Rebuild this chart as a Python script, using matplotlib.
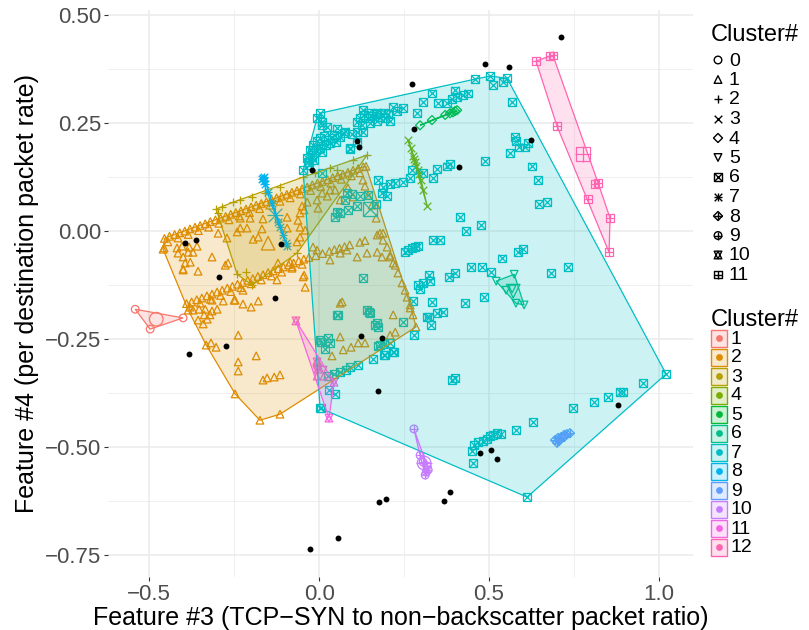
import numpy as np
import matplotlib.pyplot as plt
from matplotlib.patches import Polygon, Rectangle
from matplotlib.colors import to_rgba

plt.rcParams['font.family'] = ['Liberation Sans', 'DejaVu Sans']

palette = ['#F8766D', '#DE8C00', '#B79F00', '#7CAE00', '#00BA38', '#00C08B',
           '#00BFC4', '#00B4F0', '#619CFF', '#C77CFF', '#F564E3', '#FF64B0']
# shape legend 0..11 belongs to clusters 1..12
shape_markers = [['o'], ['^'], ['+'], ['x'], ['D'], ['v'], ['s', 'x'], ['+', 'x'],
                 ['D', '+'], ['o', '+'], ['^', 'v'], ['s', '+']]
shape_labels = [str(i) for i in range(12)]
cluster_labels = [str(i) for i in range(1, 13)]

c1 = [(-0.541, -0.181), (-0.497, -0.227), (-0.400, -0.201)]

c2_streak_hi = [(-0.455, -0.017), (-0.44, -0.012), (-0.425, -0.008), (-0.41, -0.004), (-0.395, 0.000),
                (-0.38, 0.005), (-0.365, 0.009), (-0.35, 0.013), (-0.335, 0.017), (-0.32, 0.022),
                (-0.305, 0.026), (-0.29, 0.030), (-0.275, 0.034), (-0.26, 0.039), (-0.245, 0.043),
                (-0.23, 0.047), (-0.215, 0.051), (-0.20, 0.056), (-0.185, 0.060), (-0.17, 0.064),
                (-0.155, 0.068), (-0.14, 0.073), (-0.125, 0.077), (-0.11, 0.081), (-0.095, 0.085),
                (-0.08, 0.090), (-0.065, 0.094), (-0.05, 0.098), (-0.035, 0.102), (-0.02, 0.107),
                (-0.005, 0.111), (0.01, 0.115), (0.025, 0.119), (0.04, 0.124), (0.055, 0.128),
                (0.07, 0.132), (0.085, 0.136), (0.10, 0.141), (0.115, 0.145), (0.13, 0.149),
                (-0.445, -0.025), (-0.415, -0.016), (-0.385, -0.008), (-0.355, 0.001), (-0.325, 0.009),
                (-0.295, 0.018), (-0.265, 0.026), (-0.235, 0.035), (-0.205, 0.043), (-0.175, 0.052),
                (-0.145, 0.060), (-0.115, 0.069), (-0.085, 0.077), (-0.055, 0.086), (-0.025, 0.094),
                (0.005, 0.103), (0.035, 0.111), (0.065, 0.120), (0.095, 0.128), (0.12, 0.135)]
c2_streak_lo = [(-0.39, -0.168), (-0.375, -0.164), (-0.36, -0.159), (-0.345, -0.155), (-0.33, -0.150),
                (-0.315, -0.146), (-0.30, -0.141), (-0.285, -0.137), (-0.27, -0.132), (-0.255, -0.128),
                (-0.24, -0.123), (-0.225, -0.119), (-0.21, -0.114), (-0.195, -0.110), (-0.18, -0.105),
                (-0.165, -0.101), (-0.15, -0.096), (-0.135, -0.092), (-0.12, -0.087), (-0.105, -0.083),
                (-0.09, -0.078), (-0.075, -0.074), (-0.06, -0.069), (-0.045, -0.065), (-0.03, -0.061),
                (-0.01, -0.057), (0.01, -0.052), (0.03, -0.047), (0.045, -0.043), (0.06, -0.040),
                (0.075, -0.036), (0.09, -0.032), (0.12, -0.026), (0.135, -0.022),
                (-0.38, -0.176), (-0.35, -0.167), (-0.32, -0.158), (-0.29, -0.149), (-0.26, -0.140),
                (-0.23, -0.131), (-0.20, -0.122), (-0.17, -0.113), (-0.14, -0.104), (-0.11, -0.095),
                (-0.08, -0.086), (-0.05, -0.077)]
c2_scatter = [(-0.459, -0.042), (-0.418, -0.039), (-0.403, -0.035), (-0.382, -0.037), (-0.359, -0.035),
              (-0.415, -0.051), (-0.400, -0.060), (-0.385, -0.049), (-0.371, -0.049), (-0.394, -0.074),
              (-0.379, -0.072), (-0.400, -0.088), (-0.356, -0.093), (-0.276, -0.079), (-0.268, -0.074),
              (-0.315, -0.060), (-0.297, -0.005), (-0.271, -0.016), (-0.232, 0.030), (-0.203, 0.030),
              (-0.165, 0.028), (-0.232, 0.007), (-0.212, 0.007), (-0.168, 0.005), (-0.241, -0.002),
              (-0.194, -0.019), (-0.179, -0.014), (-0.094, 0.007), (-0.094, 0.032), (-0.062, 0.025),
              (-0.056, 0.009), (-0.050, 0.058), (-0.035, 0.067), (-0.044, 0.049), (-0.056, 0.042),
              (-0.006, 0.072), (0.009, 0.088), (-0.003, 0.053), (0.024, 0.081), (0.047, 0.095),
              (0.062, 0.072), (0.085, 0.100), (0.100, 0.079), (0.032, 0.095), (-0.041, 0.002),
              (-0.056, -0.014), (-0.018, -0.037), (-0.006, -0.044), (0.032, -0.067), (0.062, -0.051),
              (0.082, -0.044), (0.112, -0.060), (0.141, -0.051), (0.171, -0.009), (0.188, -0.005),
              (0.171, -0.049), (0.185, -0.060), (0.209, -0.060), (0.218, -0.074), (-0.065, -0.025),
              (-0.079, -0.083), (-0.044, -0.102), (-0.124, -0.113), (-0.224, -0.137), (-0.247, -0.160),
              (-0.121, -0.074), (-0.085, -0.072), (0.062, -0.167), (0.068, -0.164), (0.144, -0.183),
              (0.218, -0.194), (-0.400, -0.090), (-0.047, -0.106), (-0.041, -0.130), (-0.282, -0.162),
              (-0.250, -0.160), (-0.224, -0.169), (-0.200, -0.176), (-0.179, -0.162), (-0.315, -0.160),
              (-0.385, -0.183), (-0.371, -0.183), (-0.353, -0.181), (-0.335, -0.181), (-0.315, -0.185),
              (-0.300, -0.181), (-0.338, -0.194), (-0.321, -0.194), (-0.356, -0.206), (-0.329, -0.204),
              (-0.341, -0.215), (-0.238, -0.241), (-0.332, -0.264), (-0.318, -0.259), (-0.303, -0.269),
              (-0.185, -0.289), (-0.238, -0.303), (-0.238, -0.324), (-0.165, -0.345), (-0.153, -0.340),
              (-0.132, -0.338), (-0.115, -0.333), (-0.247, -0.377), (-0.174, -0.438), (-0.115, -0.424),
              (-0.456, -0.039), (0.268, -0.178), (0.062, -0.245), (0.115, -0.259), (0.135, -0.259),
              (0.209, -0.241), (0.224, -0.234), (0.071, -0.275), (0.094, -0.269), (0.038, -0.289),
              (-0.006, -0.301), (0.129, 0.118), (0.135, 0.104), (0.144, 0.083), (0.156, 0.060),
              (0.168, 0.030), (0.179, -0.005), (0.188, -0.021), (0.200, -0.037), (0.209, -0.056),
              (0.224, -0.079), (0.232, -0.097), (0.244, -0.120), (0.253, -0.137), (0.259, -0.153),
              (0.268, -0.171), (0.276, -0.194), (0.285, -0.222), (0.138, 0.150)]
c2 = c2_streak_hi + c2_streak_lo + c2_scatter

c3 = [(-0.303, 0.051), (-0.297, 0.042), (-0.285, 0.056), (-0.253, 0.067), (-0.232, 0.072),
      (-0.197, 0.079), (-0.159, 0.088), (-0.115, 0.102), (-0.047, 0.125), (-0.012, 0.134),
      (0.032, 0.146), (0.053, 0.141), (0.100, 0.164), (0.141, 0.176), (-0.065, -0.051),
      (-0.197, -0.125), (-0.215, -0.095), (-0.241, -0.100)]

c4 = [(0.262, 0.211), (0.271, 0.192), (0.276, 0.174), (0.279, 0.167), (0.282, 0.160), (0.285, 0.150),
      (0.291, 0.141), (0.294, 0.132), (0.300, 0.118), (0.306, 0.095), (0.318, 0.058)]

c5 = [(0.297, 0.245), (0.332, 0.257), (0.371, 0.269), (0.385, 0.273), (0.394, 0.275), (0.406, 0.280),
      (0.400, 0.278)]

c6 = [(0.521, -0.116), (0.574, -0.100), (0.603, -0.171), (0.579, -0.167), (0.568, -0.134), (0.550, -0.137)]

c7 = [(0.003, 0.273), (0.503, 0.359), (0.553, 0.354), (1.021, -0.331), (0.612, -0.616), (0.003, -0.410),
      (-0.047, 0.141), (-0.006, 0.262),
      (0.009, 0.252), (0.024, 0.241), (0.053, 0.238), (0.076, 0.231), (0.097, 0.225), (0.112, 0.229),
      (0.129, 0.280), (0.144, 0.273), (0.171, 0.275), (0.194, 0.273), (0.209, 0.255), (0.218, 0.287),
      (0.229, 0.278), (0.247, 0.285), (0.288, 0.273), (0.306, 0.299), (0.332, 0.319), (0.350, 0.296),
      (0.376, 0.296), (0.391, 0.306), (0.400, 0.326), (0.406, 0.310), (0.424, 0.315), (0.438, 0.319),
      (0.459, 0.352), (0.512, 0.338), (0.541, 0.345), (0.568, 0.299), (0.576, 0.218), (0.579, 0.208),
      (0.588, 0.194), (0.606, 0.194), (0.615, 0.204), (0.562, 0.181), (0.488, 0.162), (0.626, 0.150),
      (0.644, 0.118), (0.376, 0.150), (0.385, 0.155), (0.347, 0.144), (0.335, 0.123), (0.306, 0.134),
      (0.274, 0.141), (0.268, 0.123), (0.247, 0.113), (0.224, 0.111), (0.209, 0.109), (0.188, 0.102),
      (0.174, 0.118), (0.200, 0.081), (0.185, 0.088), (0.091, 0.190), (0.112, 0.206), (-0.032, 0.160),
      (0.009, 0.134), (0.647, 0.063), (0.671, 0.067), (0.585, -0.049), (0.600, -0.042),
      (-0.026, 0.188), (-0.018, 0.199), (-0.006, 0.208), (0.003, 0.215), (0.015, 0.220), (0.026, 0.211),
      (0.038, 0.215), (0.050, 0.206), (-0.021, 0.176), (-0.009, 0.188), (0.003, 0.192), (0.021, 0.199),
      (0.032, 0.204), (0.044, 0.222), (0.062, 0.218), (0.074, 0.227), (-0.035, 0.169), (-0.015, 0.164),
      (0.009, 0.183), (-0.029, 0.153),
      (0.112, 0.252), (0.121, 0.262), (0.132, 0.269), (0.144, 0.262), (0.156, 0.266), (0.168, 0.271),
      (0.179, 0.264), (0.194, 0.262), (0.126, 0.245), (0.150, 0.250), (0.171, 0.255), (0.203, 0.271),
      (0.415, 0.032), (0.476, 0.014), (0.432, 0.000), (0.335, -0.021), (0.356, -0.021), (0.291, -0.035),
      (0.274, -0.039), (0.253, -0.049), (0.538, -0.063), (0.447, -0.083), (0.479, -0.083), (0.506, -0.095),
      (0.682, -0.097), (0.732, -0.083), (0.400, -0.097), (0.382, -0.106), (0.324, -0.102), (0.326, -0.116),
      (0.306, -0.120), (0.291, -0.125), (0.297, -0.134), (0.485, -0.153), (0.429, -0.167), (0.332, -0.164),
      (0.276, -0.162), (0.365, -0.188), (0.347, -0.190), (0.324, -0.199), (0.329, -0.218), (0.279, -0.241),
      (0.247, -0.211), (0.218, -0.280), (0.191, -0.287), (0.391, -0.345), (0.400, -0.340), (0.629, -0.442),
      (0.579, -0.461), (0.535, -0.470), (0.512, -0.472), (0.494, -0.481), (0.482, -0.486), (0.456, -0.495),
      (0.450, -0.509), (0.453, -0.537), (0.747, -0.410), (0.809, -0.396), (0.850, -0.384), (0.885, -0.373),
      (0.894, -0.373), (0.953, -0.352), (0.503, -0.475), (0.524, -0.468), (0.468, -0.488), (0.262, -0.044),
      (0.282, -0.037), (0.174, -0.266), (0.191, -0.262), (0.209, -0.259), (0.026, -0.336), (0.044, -0.331),
      (0.062, -0.326), (0.079, -0.322), (0.091, -0.315),
      (0.053, -0.194), (0.147, -0.188), (0.165, -0.218), (0.174, -0.222), (0.318, -0.199), (0.026, -0.248),
      (0.018, -0.273), (0.006, -0.257), (0.115, -0.310), (0.179, -0.264), (0.159, -0.296), (0.194, -0.287),
      (0.221, -0.280), (0.029, -0.368), (0.047, -0.377), (0.006, -0.410),
      (-0.021, 0.171), (0.082, 0.088), (0.097, 0.086), (0.121, 0.081), (0.144, 0.083), (0.076, 0.072),
      (0.112, 0.058), (0.085, 0.049), (0.053, 0.044), (0.047, 0.032), (0.168, 0.063), (0.129, -0.109),
      (0.141, -0.183), (0.150, -0.190), (0.171, -0.213), (0.003, -0.252), (0.032, -0.259), (0.009, 0.245),
      (0.091, 0.192), (0.129, 0.229), (0.062, 0.042), (0.056, -0.194)]

c8 = [(-0.165, 0.123), (-0.162, 0.116), (-0.159, 0.109), (-0.150, 0.090), (-0.138, 0.065), (-0.121, 0.021),
      (-0.115, 0.009), (-0.106, -0.009), (-0.097, -0.028), (-0.094, -0.035), (-0.167, 0.120), (-0.163, 0.126)]

c9 = [(0.694, -0.484), (0.703, -0.479), (0.712, -0.477), (0.721, -0.472), (0.729, -0.470), (0.738, -0.468),
      (0.706, -0.486), (0.721, -0.477), (0.700, -0.490)]

c10 = [(0.279, -0.458), (0.297, -0.519), (0.306, -0.535), (0.318, -0.544), (0.321, -0.553), (0.312, -0.565),
       (0.315, -0.558)]

c11 = [(-0.068, -0.208), (-0.006, -0.303), (0.044, -0.350), (0.029, -0.433), (-0.003, -0.320)]

c12 = [(0.638, 0.394), (0.679, 0.405), (0.688, 0.407), (0.700, 0.243), (0.812, 0.109), (0.821, 0.111),
       (0.791, 0.074), (0.856, 0.030), (0.853, -0.049)]

clusters = [c1, c2, c3, c4, c5, c6, c7, c8, c9, c10, c11, c12]

# larger marks (cluster centres)
centre_ids = [1, 2, 6, 7, 8, 10, 11, 12]
centre_x = [-0.479, -0.150, 0.571, 0.150, -0.129, 0.309, 0.003, 0.776]
centre_y = [-0.204, -0.028, -0.139, 0.051, 0.037, -0.537, -0.329, 0.178]

# unclustered points
noise_x = [0.712, 0.488, 0.559, 0.274, 0.279, 0.112, 0.118, 0.624, 0.412, -0.021, -0.394, -0.362, -0.112,
           -0.294, -0.129, -0.274, -0.382, 0.124, 0.185, 0.174, 0.176, 0.197, 0.368, 0.385, 0.879, 0.474,
           0.506, 0.524, 0.056, -0.026]
noise_y = [0.449, 0.387, 0.380, 0.340, 0.236, 0.208, 0.194, 0.211, 0.148, 0.141, -0.028, -0.021, -0.030,
           -0.106, -0.155, -0.266, -0.285, -0.243, -0.248, -0.370, -0.627, -0.620, -0.625, -0.604, -0.403,
           -0.514, -0.507, -0.528, -0.711, -0.736]


def convex_hull(pts):
    pts = sorted(set(pts))
    if len(pts) < 3:
        return pts

    def cross(o, a, b):
        return (a[0] - o[0]) * (b[1] - o[1]) - (a[1] - o[1]) * (b[0] - o[0])
    lower, upper = [], []
    for p in pts:
        while len(lower) >= 2 and cross(lower[-2], lower[-1], p) <= 0:
            lower.pop()
        lower.append(p)
    for p in reversed(pts):
        while len(upper) >= 2 and cross(upper[-2], upper[-1], p) <= 0:
            upper.pop()
        upper.append(p)
    return lower[:-1] + upper[:-1]


def draw_marks(axis, xs, ys, markers, color, size, lw=0.9, z=3):
    for m in markers:
        s = size * (1.3 if m == '+' else 1.0) * (0.7 if m == 'D' else 1.0)
        if m in ('+', 'x'):
            axis.scatter(xs, ys, marker=m, s=s, c=color, linewidths=lw, zorder=z)
        else:
            axis.scatter(xs, ys, marker=m, s=s, facecolors='none', edgecolors=color,
                         linewidths=lw, zorder=z)


fig = plt.figure(figsize=(8.09, 6.30), dpi=100)
ax = fig.add_axes([108 / 809, 53 / 630, 585 / 809, 567 / 630])

for k, pts in enumerate(clusters):
    arr = np.array(pts)
    draw_marks(ax, arr[:, 0], arr[:, 1], shape_markers[k], palette[k], 30)

for cid, cx, cy in zip(centre_ids, centre_x, centre_y):
    draw_marks(ax, [cx], [cy], shape_markers[cid - 1], palette[cid - 1], 95)

for k, pts in enumerate(clusters):
    h = convex_hull(pts)
    ax.add_patch(Polygon(h, closed=True, facecolor=to_rgba(palette[k], 0.2),
                         edgecolor=palette[k], linewidth=0.9, zorder=4))

ax.scatter(noise_x, noise_y, s=18, c='black', linewidths=0, zorder=5)

ax.set_xlim(-0.621, 1.100)
ax.set_ylim(-0.801, 0.512)
xt = [-0.5, 0.0, 0.5, 1.0]
yt = [-0.75, -0.5, -0.25, 0.0, 0.25, 0.5]
ax.set_xticks(xt, [f'{v:.1f}'.replace('-', '\u2212') for v in xt])
ax.set_yticks(yt, [f'{v:.2f}'.replace('-', '\u2212') for v in yt])
ax.set_xticks([-0.25, 0.25, 0.75], minor=True)
ax.set_yticks([-0.625, -0.375, -0.125, 0.125, 0.375], minor=True)
ax.tick_params(which='major', length=3, width=0.8, color='#333333', labelsize=16,
               labelcolor='#4D4D4D', pad=2)
ax.tick_params(which='minor', length=0)
ax.grid(which='major', color='#EBEBEB', linewidth=1.1, zorder=0)
ax.grid(which='minor', color='#EBEBEB', linewidth=0.55, zorder=0)
ax.set_axisbelow(True)
for sp in ax.spines.values():
    sp.set_visible(False)
ax.set_xlabel('Feature #3 (TCP\u2212SYN to non\u2212backscatter packet ratio)', fontsize=18, labelpad=1)
ax.set_ylabel('Feature #4 (per destination packet rate)', fontsize=18, labelpad=4)

# legends drawn in pixel space on an overlay
lax = fig.add_axes([0, 0, 1, 1])
lax.set_xlim(0, 809)
lax.set_ylim(630, 0)
lax.axis('off')

lax.text(711, 35, 'Cluster#', fontsize=17, va='center', ha='left')
for i, lab in enumerate(shape_labels):
    y = 60 + 19.5 * i
    draw_marks(lax, [718], [y], shape_markers[i], 'black', 30, lw=1.0)
    lax.text(729, y + 1, lab, fontsize=14, va='center', ha='left')

lax.text(711, 320, 'Cluster#', fontsize=17, va='center', ha='left')
for i, lab in enumerate(cluster_labels):
    y = 338 + 19 * i
    lax.add_patch(Rectangle((711, y - 8.5), 16, 17, facecolor=to_rgba(palette[i], 0.2),
                            edgecolor=palette[i], linewidth=1))
    lax.scatter([719], [y], s=24, c=palette[i], linewidths=0)
    lax.text(731, y + 1, lab, fontsize=14, va='center', ha='left')

fig.savefig('out.png', dpi=100)
